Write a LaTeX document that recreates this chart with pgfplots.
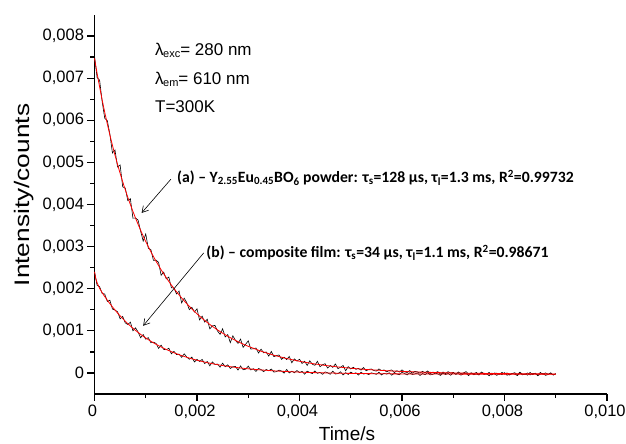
\documentclass[border=0pt]{standalone}
\usepackage{pgfplots}
\pgfplotsset{compat=1.18}
\usepackage{pgfplotstable}
\usepackage{graphicx}
\usepackage{fontspec}
\setmainfont{Liberation Sans}
\newfontfamily\carlito{Carlito}
\usetikzlibrary{arrows.meta}

% time in microseconds, intensity in 1e-6 counts
\pgfplotstableread[row sep=\\]{t I\\
0 7530\\ 50 7019\\ 100 6950\\ 150 6440\\ 200 6047\\ 250 5992\\ 300 5671\\ 350 5225\\ 400 5292\\ 450 4890\\
500 4940\\ 550 4421\\ 600 4391\\ 650 4091\\ 700 4139\\ 750 3675\\ 800 3679\\ 850 3630\\ 900 3368\\ 950 3131\\
1000 3301\\ 1050 2958\\ 1100 2930\\ 1150 2673\\ 1200 2680\\ 1250 2628\\ 1300 2320\\ 1350 2392\\ 1400 2235\\ 1450 2277\\
1500 2023\\ 1550 2019\\ 1600 1876\\ 1650 1944\\ 1700 1664\\ 1750 1776\\ 1800 1671\\ 1850 1503\\ 1900 1558\\ 1950 1447\\
2000 1521\\ 2050 1258\\ 2100 1349\\ 2150 1207\\ 2200 1276\\ 2250 1047\\ 2300 1119\\ 2350 1128\\ 2400 996\\ 2450 917\\
2500 1048\\ 2550 855\\ 2600 910\\ 2650 720\\ 2700 882\\ 2750 773\\ 2800 703\\ 2850 804\\ 2900 607\\ 2950 684\\
3000 762\\ 3050 567\\ 3100 575\\ 3150 592\\ 3200 473\\ 3250 564\\ 3300 479\\ 3350 499\\ 3400 400\\ 3450 510\\
3500 388\\ 3550 411\\ 3600 427\\ 3650 323\\ 3700 372\\ 3750 318\\ 3800 392\\ 3850 242\\ 3900 333\\ 3950 281\\
4000 325\\ 4050 225\\ 4100 278\\ 4150 179\\ 4200 289\\ 4250 207\\ 4300 181\\ 4350 276\\ 4400 147\\ 4450 195\\
4500 219\\ 4550 115\\ 4600 179\\ 4650 132\\ 4700 213\\ 4750 102\\ 4800 136\\ 4850 177\\ 4900 51\\ 4950 150\\
5000 96\\ 5050 135\\ 5100 86\\ 5150 109\\ 5200 68\\ 5250 127\\ 5300 51\\ 5350 83\\ 5400 94\\ 5450 59\\
5500 43\\ 5550 95\\ 5600 56\\ 5650 72\\ 5700 25\\ 5750 58\\ 5800 71\\ 5850 8\\ 5900 53\\ 5950 22\\
6000 72\\ 6050 25\\ 6100 11\\ 6150 57\\ 6200 -6\\ 6250 36\\ 6300 26\\ 6350 -4\\ 6400 38\\ 6450 5\\
6500 47\\ 6550 -15\\ 6600 20\\ 6650 6\\ 6700 32\\ 6750 -29\\ 6800 22\\ 6850 -16\\ 6900 31\\ 6950 -6\\
7000 13\\ 7050 -33\\ 7100 22\\ 7150 -19\\ 7200 0\\ 7250 31\\ 7300 -30\\ 7350 1\\ 7400 -20\\ 7450 11\\
7500 -37\\ 7550 22\\ 7600 -15\\ 7650 -28\\ 7700 12\\ 7750 -49\\ 7800 -2\\ 7850 -6\\ 7900 -35\\ 7950 13\\
8000 -28\\ 8050 0\\ 8100 -49\\ 8150 -13\\ 8200 6\\ 8250 -42\\ 8300 17\\ 8350 -27\\ 8400 -36\\ 8450 0\\
8500 -48\\ 8550 -9\\ 8600 -21\\ 8650 -42\\ 8700 10\\ 8750 -34\\ 8800 2\\ 8850 -31\\ 8900 -7\\ 8950 -47\\
9000 -20\\
}\dataA

\pgfplotstableread[row sep=\\]{t I\\
0 2410\\ 50 2082\\ 100 2048\\ 150 1886\\ 200 1874\\ 250 1698\\ 300 1726\\ 350 1518\\ 400 1494\\ 450 1453\\
500 1285\\ 550 1341\\ 600 1189\\ 650 1151\\ 700 1205\\ 750 1002\\ 800 1071\\ 850 973\\ 900 836\\ 950 912\\
1000 800\\ 1050 839\\ 1100 717\\ 1150 730\\ 1200 702\\ 1250 585\\ 1300 659\\ 1350 559\\ 1400 551\\ 1450 587\\
1500 456\\ 1550 515\\ 1600 435\\ 1650 447\\ 1700 370\\ 1750 454\\ 1800 379\\ 1850 325\\ 1900 377\\ 1950 262\\
2000 323\\ 2050 273\\ 2100 321\\ 2150 223\\ 2200 272\\ 2250 169\\ 2300 262\\ 2350 201\\ 2400 211\\ 2450 137\\
2500 232\\ 2550 146\\ 2600 193\\ 2650 107\\ 2700 147\\ 2750 154\\ 2800 69\\ 2850 167\\ 2900 76\\ 2950 90\\
3000 161\\ 3050 72\\ 3100 101\\ 3150 36\\ 3200 106\\ 3250 81\\ 3300 31\\ 3350 82\\ 3400 53\\ 3450 93\\
3500 20\\ 3550 31\\ 3600 67\\ 3650 44\\ 3700 -4\\ 3750 83\\ 3800 0\\ 3850 42\\ 3900 4\\ 3950 57\\
4000 9\\ 4050 37\\ 4100 -30\\ 4150 43\\ 4200 11\\ 4250 -16\\ 4300 47\\ 4350 -10\\ 4400 14\\ 4450 -33\\
4500 26\\ 4550 4\\ 4600 -32\\ 4650 42\\ 4700 -25\\ 4750 -16\\ 4800 28\\ 4850 -48\\ 4900 6\\ 4950 -35\\
5000 19\\ 5050 -16\\ 5100 3\\ 5150 -50\\ 5200 18\\ 5250 -27\\ 5300 -8\\ 5350 -40\\ 5400 3\\ 5450 -14\\
5500 -34\\ 5550 17\\ 5600 -47\\ 5650 -8\\ 5700 -28\\ 5750 3\\ 5800 -53\\ 5850 -6\\ 5900 -26\\ 5950 -42\\
6000 17\\ 6050 -15\\ 6100 -47\\ 6150 4\\ 6200 -36\\ 6250 -24\\ 6300 0\\ 6350 -61\\ 6400 -13\\ 6450 -41\\
6500 7\\ 6550 -46\\ 6600 -34\\ 6650 -6\\ 6700 -22\\ 6750 -58\\ 6800 -3\\ 6850 -39\\ 6900 -11\\ 6950 -55\\
7000 9\\ 7050 -31\\ 7100 -15\\ 7150 -52\\ 7200 -20\\ 7250 -8\\ 7300 -64\\ 7350 0\\ 7400 -44\\ 7450 -24\\
7500 -48\\ 7550 4\\ 7600 -36\\ 7650 -16\\ 7700 -68\\ 7750 -4\\ 7800 -21\\ 7850 -57\\ 7900 -13\\ 7950 -41\\
8000 7\\ 8050 -53\\ 8100 -33\\ 8150 -9\\ 8200 -29\\ 8250 -61\\ 8300 -1\\ 8350 -45\\ 8400 -21\\ 8450 -53\\
8500 11\\ 8550 -41\\ 8600 -5\\ 8650 -65\\ 8700 -25\\ 8750 -13\\ 8800 -57\\ 8850 -37\\ 8900 3\\ 8950 -49\\
9000 -17\\
}\dataB

\pgfplotstableread[row sep=\\]{t I\\
0 7470\\ 50 7119\\ 100 6790\\ 150 6480\\ 200 6187\\ 250 5912\\ 300 5651\\ 350 5405\\ 400 5172\\ 450 4950\\
500 4740\\ 550 4541\\ 600 4351\\ 650 4171\\ 700 3999\\ 750 3835\\ 800 3679\\ 850 3530\\ 900 3388\\ 950 3251\\
1000 3121\\ 1100 2878\\ 1200 2654\\ 1300 2450\\ 1400 2261\\ 1500 2088\\ 1600 1928\\ 1700 1781\\ 1800 1645\\ 1900 1519\\
2000 1404\\ 2100 1297\\ 2200 1198\\ 2300 1106\\ 2400 1022\\ 2500 944\\ 2600 871\\ 2700 804\\ 2800 742\\ 2900 685\\
3000 632\\ 3250 516\\ 3500 420\\ 3750 342\\ 4000 277\\ 4250 223\\ 4500 179\\ 4750 142\\ 5000 112\\ 5250 87\\
5500 67\\ 5750 50\\ 6000 36\\ 6250 24\\ 6500 15\\ 6750 7\\ 7000 1\\ 7250 -5\\ 7500 -9\\ 7750 -13\\
8000 -16\\ 8250 -18\\ 8500 -20\\ 8750 -22\\ 9000 -24\\
}\fitA

\pgfplotstableread[row sep=\\]{t I\\
0 2400\\ 25 2243\\ 50 2142\\ 100 2008\\ 150 1906\\ 200 1814\\ 250 1728\\ 300 1646\\ 350 1568\\ 400 1494\\ 450 1423\\
500 1355\\ 550 1291\\ 600 1229\\ 650 1171\\ 700 1115\\ 750 1062\\ 800 1011\\ 850 963\\ 900 916\\ 950 872\\
1000 830\\ 1100 752\\ 1200 681\\ 1300 617\\ 1400 558\\ 1500 505\\ 1600 456\\ 1700 412\\ 1800 372\\ 1900 335\\
2000 302\\ 2100 272\\ 2200 244\\ 2300 220\\ 2400 197\\ 2500 176\\ 2600 158\\ 2700 140\\ 2800 125\\ 2900 111\\
3000 98\\ 3250 71\\ 3500 50\\ 3750 33\\ 4000 19\\ 4250 9\\ 4500 1\\ 4750 -6\\ 5000 -11\\ 5250 -15\\
5500 -18\\ 5750 -21\\ 6000 -23\\ 6250 -24\\ 6500 -25\\ 6750 -26\\ 7000 -27\\ 7250 -28\\ 7500 -28\\ 7750 -28\\
8000 -29\\ 8250 -29\\ 8500 -29\\ 8750 -29\\ 9000 -29\\
}\fitB

\begin{document}
\begin{tikzpicture}
\useasboundingbox (-94.5pt,-50pt) rectangle (531.5pt,394pt);
\begin{axis}[
  at={(0pt,0pt)}, anchor=south west,
  scale only axis, width=512.5pt, height=379pt,
  xmin=0, xmax=0.010, ymin=-0.0005, ymax=0.0085,
  scaled ticks=false,
  axis lines*=left,
  axis line style={-, line width=1.6pt, black},
  tick align=outside,
  major tick length=7pt, minor tick length=4pt,
  every tick/.style={black, line width=1.3pt},
  xtick={0,0.002,0.004,0.006,0.008,0.010},
  xticklabels={0,{0,002},{0,004},{0,006},{0,008},{0,010}},
  ytick={0,0.001,0.002,0.003,0.004,0.005,0.006,0.007,0.008},
  yticklabels={0,{0,001},{0,002},{0,003},{0,004},{0,005},{0,006},{0,007},{0,008}},
  minor x tick num=1, minor y tick num=1,
  ticklabel style={font=\fontsize{16.5}{20}\selectfont},
  xticklabel style={xshift=-2pt},
  xlabel={Time/s},
  ylabel={\scalebox{1.25}[1]{Intensity/counts}},
  every axis x label/.style={at={(axis description cs:0.4927,-0.106)}, anchor=center, font=\fontsize{19}{22}\selectfont},
  every axis y label/.style={at={(axis description cs:-0.1376,0.525)}, anchor=center, rotate=90, font=\fontsize{21}{24}\selectfont},
  clip=false,
]
\addplot[black, line width=0.6pt] table[x expr=\thisrow{t}*1e-6, y expr=\thisrow{I}*1e-6] {\dataA};
\addplot[black, line width=0.6pt] table[x expr=\thisrow{t}*1e-6, y expr=\thisrow{I}*1e-6] {\dataB};
\addplot[red, line width=0.8pt] table[x expr=\thisrow{t}*1e-6, y expr=\thisrow{I}*1e-6] {\fitA};
\addplot[red, line width=0.8pt] table[x expr=\thisrow{t}*1e-6, y expr=\thisrow{I}*1e-6] {\fitB};

\node[anchor=base west, font=\fontsize{17}{20}\selectfont, inner sep=0pt] at (axis cs:0.00118,0.00753) {λ\kern-0.5pt\raisebox{-2pt}{\fontsize{11}{12}\selectfont exc}= 280 nm};
\node[anchor=base west, font=\fontsize{17}{20}\selectfont, inner sep=0pt] at (axis cs:0.00118,0.00686) {λ\kern-0.5pt\raisebox{-2pt}{\fontsize{11}{12}\selectfont em}= 610 nm};
\node[anchor=base west, font=\fontsize{17}{20}\selectfont, inner sep=0pt] at (axis cs:0.00118,0.00619) {T=300K};

\node[anchor=base west, font=\carlito\bfseries\fontsize{15.7}{18}\selectfont, inner sep=0pt] at (axis cs:0.00161,0.00452) {(a) – Y\textsubscript{2.55}Eu\textsubscript{0.45}BO\textsubscript{6} powder: τ\textsubscript{s}=128 µs, τ\textsubscript{l}=1.3 ms, R\textsuperscript{2}=0.99732};
\node[anchor=base west, font=\carlito\bfseries\fontsize{15.7}{18}\selectfont, inner sep=0pt] at (axis cs:0.00218,0.00274) {(b) – composite film: τ\textsubscript{s}=34 µs, τ\textsubscript{l}=1.1 ms, R\textsuperscript{2}=0.98671};

\draw[line width=0.6pt, -{Straight Barb[length=6pt,width=7pt]}] (axis cs:0.00149,0.0046) -- (axis cs:0.00092,0.0038);
\draw[line width=0.6pt, -{Straight Barb[length=6pt,width=7pt]}] (axis cs:0.00213,0.00285) -- (axis cs:0.00095,0.00112);
\end{axis}
\end{tikzpicture}
\end{document}
